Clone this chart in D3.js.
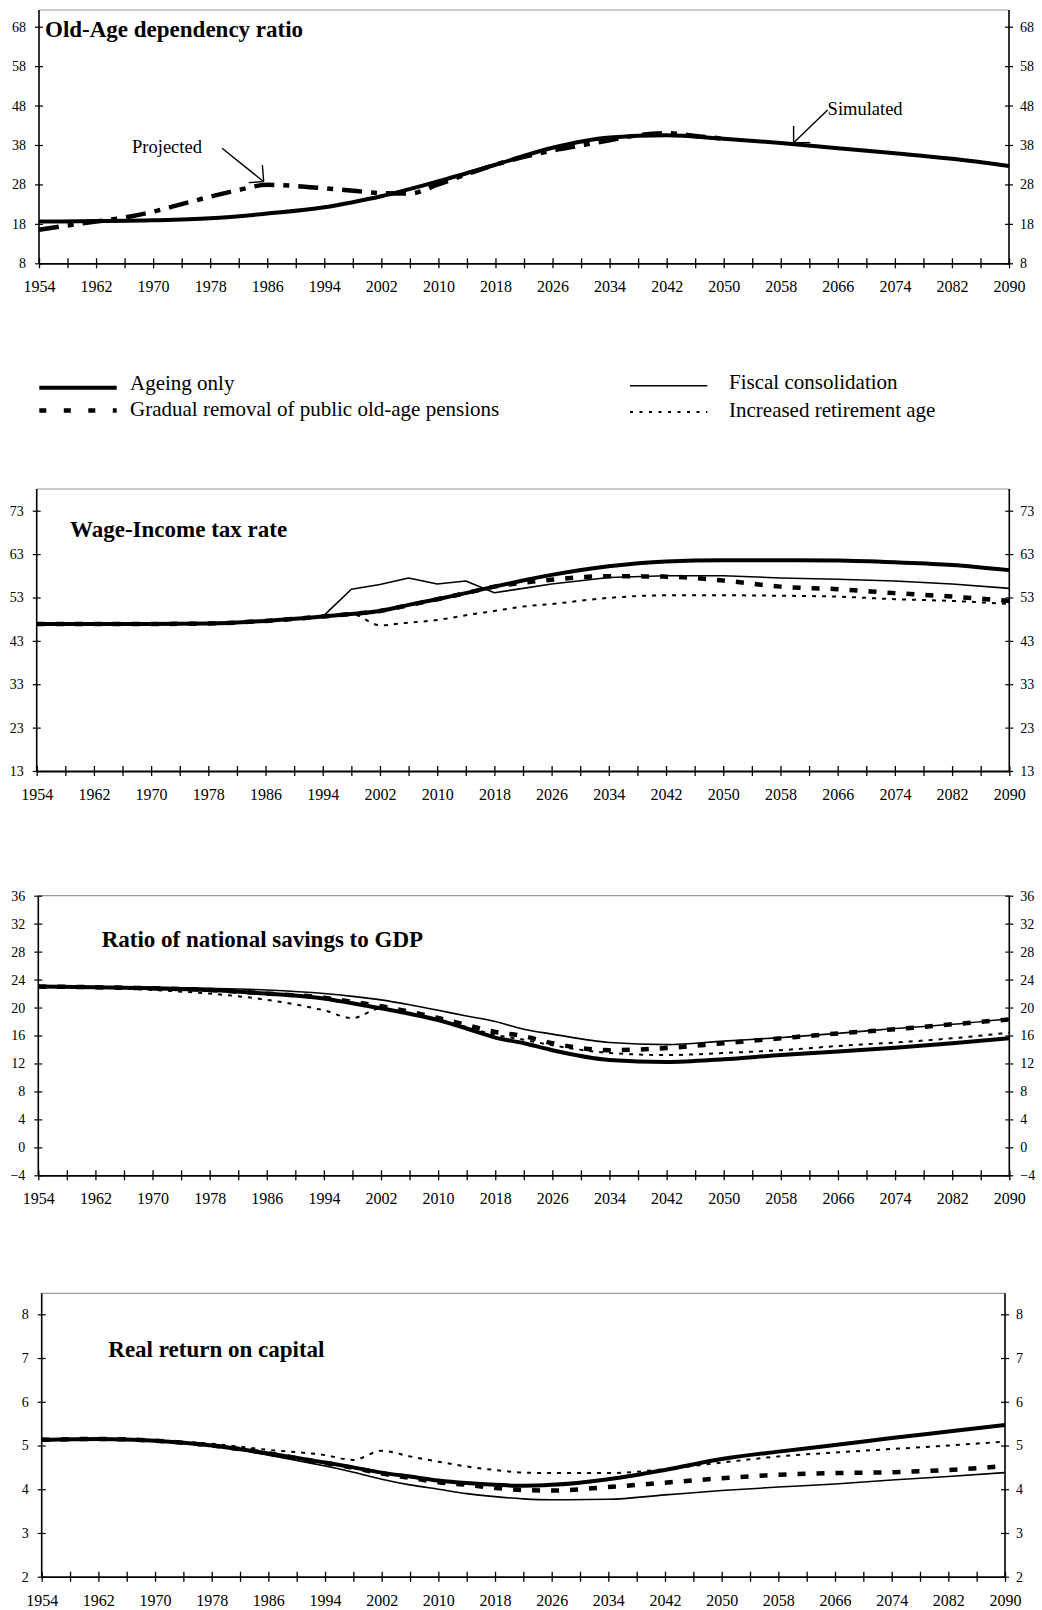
<!DOCTYPE html>
<html>
<head>
<meta charset="utf-8">
<script src="https://cdn.jsdelivr.net/npm/d3@7"></script>
<style>
  body { margin: 0; background: #fff; }
  svg text { font-family: "Liberation Serif", "Times New Roman", serif; fill: #000; }
</style>
</head>
<body>
<svg id="chart" width="1042" height="1610"></svg>
<script>
// ---------- data ----------
// Year axis: labels every 8 years, minor ticks every 4 years
const yearLabels = [1954, 1962, 1970, 1978, 1986, 1994, 2002, 2010, 2018, 2026, 2034, 2042, 2050, 2058, 2066, 2074, 2082, 2090];
const yearTicks = [1954, 1958, 1962, 1966, 1970, 1974, 1978, 1982, 1986, 1990, 1994, 1998, 2002, 2006, 2010, 2014, 2018, 2022,
                   2026, 2030, 2034, 2038, 2042, 2046, 2050, 2054, 2058, 2062, 2066, 2070, 2074, 2078, 2082, 2086, 2090];

// Old-age dependency ratio
const oadrYears = [1954, 1962, 1970, 1978, 1986, 1994, 1998, 2002, 2010, 2018, 2026, 2034, 2042, 2050, 2058, 2066, 2074, 2082, 2090];
const oadrSimulated = [18.6, 18.7, 18.9, 19.4, 20.6, 22.2, 23.5, 25.0, 28.8, 33.0, 37.3, 39.9, 40.5, 39.6, 38.5, 37.2, 35.9, 34.5, 32.7];
const projYears = [1954, 1958, 1962, 1966, 1970, 1974, 1978, 1982, 1986, 1990, 1994, 1998, 2002, 2006, 2010, 2014, 2018, 2022, 2026, 2030, 2034, 2038, 2042, 2046, 2050];
const oadrProjected = [16.5, 17.6, 18.6, 19.6, 21.1, 23.0, 24.9, 26.6, 27.9, 27.6, 27.0, 26.4, 25.8, 25.7, 28.0, 30.6, 33.0, 35.0, 36.6, 37.9, 39.2, 40.5, 41.0, 40.3, 39.6];
const oadrTicks = [8, 18, 28, 38, 48, 58, 68];

// Scenario years shared by the three lower panels
const scenYears = [1954, 1962, 1970, 1978, 1986, 1994, 1998, 2002, 2006, 2010, 2014, 2018, 2022, 2026, 2034, 2042, 2050, 2058, 2066, 2074, 2082, 2090];

// Wage-income tax rate
const taxAgeing  = [46.9, 46.9, 46.9, 47.0, 47.6, 48.6, 49.2, 49.9, 51.3, 52.6, 54.0, 55.5, 56.9, 58.2, 60.2, 61.3, 61.6, 61.6, 61.5, 61.1, 60.5, 59.3];
const taxFiscal  = [46.9, 46.9, 46.9, 47.0, 47.6, 48.6, 54.9, 56.0, 57.5, 56.1, 56.8, 54.1, 55.1, 56.1, 57.6, 58.0, 58.0, 57.5, 57.2, 56.8, 56.1, 55.1];
const taxPension = [46.9, 46.9, 46.9, 47.0, 47.6, 48.6, 49.2, 49.9, 51.2, 52.6, 54.0, 55.5, 56.4, 57.1, 57.9, 57.8, 56.9, 55.5, 54.9, 54.0, 53.2, 52.2];
const taxRetire  = [46.9, 46.9, 46.9, 47.0, 47.6, 48.6, 49.2, 46.6, 47.2, 47.8, 48.9, 49.9, 50.9, 51.5, 52.9, 53.5, 53.5, 53.4, 53.2, 52.6, 52.2, 51.5];
const taxTicks = [13, 23, 33, 43, 53, 63, 73];

// Ratio of national savings to GDP
const savAgeing  = [23.0, 22.9, 22.75, 22.5, 22.0, 21.3, 20.6, 19.9, 19.1, 18.2, 17.0, 15.7, 14.9, 13.9, 12.5, 12.2, 12.6, 13.2, 13.7, 14.25, 14.9, 15.6];
const savFiscal  = [23.0, 22.95, 22.9, 22.75, 22.5, 22.0, 21.6, 21.1, 20.4, 19.6, 18.8, 18.0, 16.9, 16.2, 15.0, 14.7, 15.2, 15.7, 16.3, 17.0, 17.6, 18.4];
const savPension = [23.0, 22.9, 22.75, 22.5, 22.0, 21.4, 20.8, 20.2, 19.4, 18.5, 17.5, 16.5, 15.9, 14.9, 13.9, 14.2, 14.9, 15.6, 16.3, 16.9, 17.6, 18.3];
const savRetire  = [23.0, 22.9, 22.5, 22.0, 21.1, 19.6, 18.5, 19.9, 19.1, 18.3, 17.2, 16.1, 15.4, 14.6, 13.5, 13.2, 13.5, 13.9, 14.5, 15.0, 15.6, 16.4];
const savTicks = [-4, 0, 4, 8, 12, 16, 20, 24, 28, 32, 36];

// Real return on capital
const rorAgeing  = [5.13, 5.15, 5.11, 5.00, 4.82, 4.61, 4.50, 4.38, 4.29, 4.20, 4.14, 4.10, 4.08, 4.10, 4.23, 4.44, 4.69, 4.86, 5.01, 5.17, 5.32, 5.47];
const rorFiscal  = [5.13, 5.15, 5.11, 5.00, 4.78, 4.53, 4.39, 4.23, 4.10, 4.00, 3.90, 3.83, 3.78, 3.76, 3.77, 3.87, 3.97, 4.05, 4.12, 4.21, 4.29, 4.38];
const rorPension = [5.13, 5.15, 5.11, 5.00, 4.82, 4.60, 4.49, 4.36, 4.26, 4.16, 4.10, 4.03, 3.98, 3.97, 4.05, 4.15, 4.25, 4.33, 4.37, 4.39, 4.44, 4.53];
const rorRetire  = [5.13, 5.15, 5.11, 5.04, 4.90, 4.78, 4.67, 4.88, 4.75, 4.63, 4.52, 4.44, 4.38, 4.37, 4.37, 4.46, 4.61, 4.75, 4.84, 4.92, 5.00, 5.09];
const rorTicks = [2, 3, 4, 5, 6, 7, 8];

// Legend entries
const legendLabels = ["Ageing only", "Gradual removal of public old-age pensions", "Fiscal consolidation", "Increased retirement age"];

// ---------- styles ----------
const style = {
  ageing:    { width: 4,   dash: null },
  fiscal:    { width: 1.6, dash: null },
  pension:   { width: 4.5, dash: "8,11" },
  retire:    { width: 2,   dash: "4,6" },
  simulated: { width: 4,   dash: null },
  projected: { width: 4.5, dash: "20,9,6,9" }
};

const svg = d3.select("#chart");

// Draws one framed panel with left/right value axes and a year axis
function panel(cfg) {
  const g = svg.append("g");
  const x = d3.scaleLinear().domain([1954, 2090]).range([cfg.left, cfg.right]);
  const y = d3.scaleLinear().domain([cfg.ticks[0], cfg.ticks[cfg.ticks.length - 1]]).range([cfg.bottom, cfg.tickTop]);

  // frame: grey top edge, black axes
  g.append("line").attr("x1", cfg.left).attr("x2", cfg.right).attr("y1", cfg.top).attr("y2", cfg.top)
    .attr("stroke", "#9a9a9a").attr("stroke-width", 1.2);
  g.append("line").attr("x1", cfg.left).attr("x2", cfg.left).attr("y1", cfg.top).attr("y2", cfg.bottom)
    .attr("stroke", "#000").attr("stroke-width", 1.6);
  g.append("line").attr("x1", cfg.right).attr("x2", cfg.right).attr("y1", cfg.top).attr("y2", cfg.bottom)
    .attr("stroke", "#000").attr("stroke-width", 1.6);

  // year axis
  const labelSet = new Set(yearLabels);
  const xa = g.append("g").attr("transform", `translate(0,${cfg.bottom})`)
    .call(d3.axisBottom(x).tickValues(yearTicks).tickSizeOuter(0)
      .tickFormat(d => labelSet.has(d) ? String(d) : ""));
  xa.select(".domain").attr("stroke", "#000").attr("stroke-width", 1.8);
  xa.selectAll(".tick line").attr("y1", -5).attr("y2", 5).attr("stroke", "#000").attr("stroke-width", 1.3);
  xa.selectAll(".tick text").attr("y", 29).attr("dy", 0).attr("font-size", 16)
    .attr("font-family", "Liberation Serif, serif").attr("fill", "#000");

  // left and right value axes
  [["L", cfg.left, d3.axisLeft(y)], ["R", cfg.right, d3.axisRight(y)]].forEach(([side, px, ax]) => {
    const a = g.append("g").attr("transform", `translate(${px},0)`)
      .call(ax.tickValues(cfg.ticks).tickSizeOuter(0).tickFormat(d3.format("d")));
    a.select(".domain").remove();
    a.selectAll(".tick line").attr("x1", -4).attr("x2", 4).attr("stroke", "#000").attr("stroke-width", 1.2);
    a.selectAll(".tick text").attr("x", side === "L" ? -13 : 11).attr("font-size", 14)
      .attr("font-family", "Liberation Serif, serif").attr("fill", "#000");
  });

  // series
  cfg.series.forEach(s => {
    const pts = s.years.map((yr, i) => [yr, s.values[i]]);
    const line = d3.line().x(d => x(d[0])).y(d => y(d[1])).curve(s.curve || d3.curveMonotoneX);
    g.append("path").attr("d", line(pts)).attr("fill", "none").attr("stroke", "#000")
      .attr("stroke-width", s.style.width).attr("stroke-dasharray", s.style.dash)
      .attr("stroke-linejoin", "round");
  });

  // title
  g.append("text").attr("x", cfg.titleX).attr("y", cfg.titleY).attr("font-size", 23)
    .attr("font-weight", "bold").text(cfg.title);

  return { g, x, y };
}

// Panel 1: old-age dependency ratio
const p1 = panel({
  left: 39, right: 1009, top: 10, tickTop: 26.7, bottom: 263.3, ticks: oadrTicks,
  title: "Old-Age dependency ratio", titleX: 45, titleY: 37,
  series: [
    { years: projYears, values: oadrProjected, style: style.projected },
    { years: oadrYears, values: oadrSimulated, style: style.simulated }
  ]
});

// annotation arrows with open heads
function annotate(p, tipYear, tipVal, label, lx, ly, tail, heads) {
  const tx = p.x(tipYear), ty = p.y(tipVal);
  const a = p.g.append("g").attr("stroke", "#000").attr("stroke-width", 1.4);
  a.append("line").attr("x1", tx + tail[0]).attr("y1", ty + tail[1]).attr("x2", tx).attr("y2", ty);
  heads.forEach(h => a.append("line").attr("x1", tx + h[0]).attr("y1", ty + h[1]).attr("x2", tx).attr("y2", ty));
  p.g.append("text").attr("x", tx + lx).attr("y", ty + ly).attr("font-size", 18.5).text(label);
}
annotate(p1, 1985.5, 28.7, "Projected", -131.6, -29, [-41.6, -33.4], [[-1.3, -16.7], [-15, 1]]);
annotate(p1, 2059.8, 38.6, "Simulated", 34, -27.7, [34, -32.7], [[0, -16.7], [16.6, 0]]);

// Legend
const legend = svg.append("g");
const legendItems = [
  { label: legendLabels[0], st: style.ageing,  x1: 39.3, x2: 116.7, ly: 387.7, tx: 130, ty: 390, dash: null },
  { label: legendLabels[1], st: style.pension, x1: 39.3, x2: 116.7, ly: 410.5, tx: 130, ty: 416, dash: "7,17.5" },
  { label: legendLabels[2], st: style.fiscal,  x1: 630,  x2: 707.3, ly: 385.7, tx: 729, ty: 389, dash: null },
  { label: legendLabels[3], st: style.retire,  x1: 630,  x2: 707.3, ly: 412,   tx: 729, ty: 417, dash: "3,6.5" }
];
legendItems.forEach(it => {
  legend.append("line").attr("x1", it.x1).attr("x2", it.x2).attr("y1", it.ly).attr("y2", it.ly)
    .attr("stroke", "#000").attr("stroke-width", it.st.width).attr("stroke-dasharray", it.dash);
  legend.append("text").attr("x", it.tx).attr("y", it.ty).attr("font-size", 21).text(it.label);
});

const scen = (a, f, p, r, fCurve) => [
  { years: scenYears, values: f, style: style.fiscal, curve: fCurve },
  { years: scenYears, values: r, style: style.retire },
  { years: scenYears, values: p, style: style.pension },
  { years: scenYears, values: a, style: style.ageing }
];

// Panel 2: wage-income tax rate (fiscal path follows yearly policy steps)
panel({
  left: 36.7, right: 1009.3, top: 489, tickTop: 510.7, bottom: 771, ticks: taxTicks,
  title: "Wage-Income tax rate", titleX: 70, titleY: 536.5,
  series: scen(taxAgeing, taxFiscal, taxPension, taxRetire, d3.curveLinear)
});

// Panel 3: ratio of national savings to GDP
panel({
  left: 38.3, right: 1009.3, top: 895.7, tickTop: 895.7, bottom: 1175.3, ticks: savTicks,
  title: "Ratio of national savings to GDP", titleX: 101.7, titleY: 946.5,
  series: scen(savAgeing, savFiscal, savPension, savRetire)
});

// Panel 4: real return on capital
panel({
  left: 41.7, right: 1005, top: 1293.3, tickTop: 1314.3, bottom: 1576.7, ticks: rorTicks,
  title: "Real return on capital", titleX: 108.3, titleY: 1356.5,
  series: scen(rorAgeing, rorFiscal, rorPension, rorRetire)
});
</script>
</body>
</html>
